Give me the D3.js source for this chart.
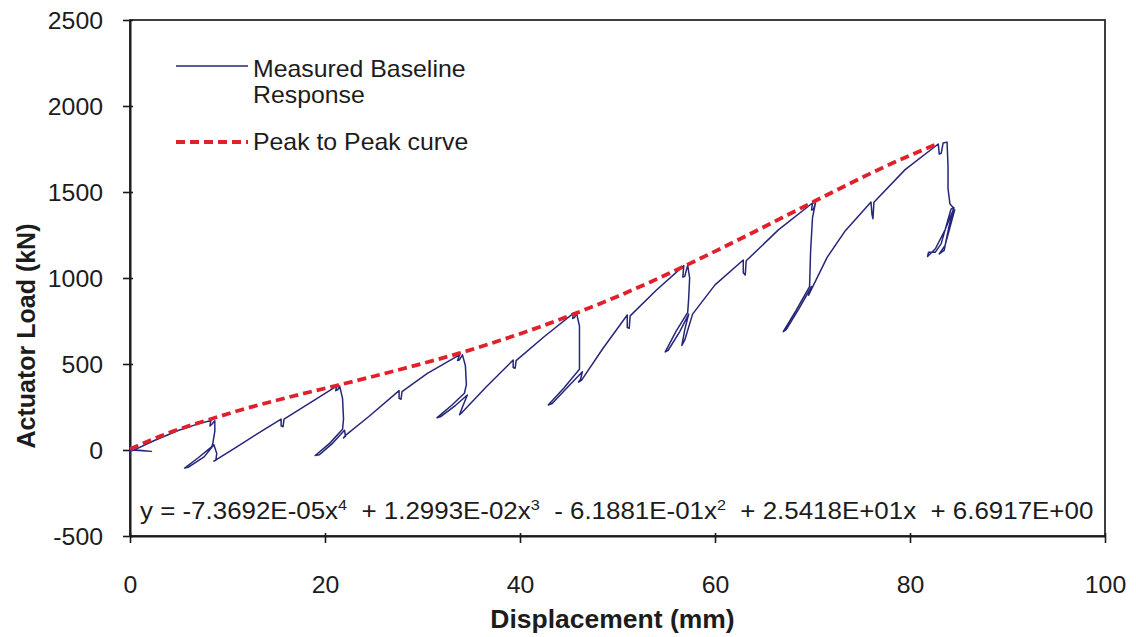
<!DOCTYPE html>
<html>
<head>
<meta charset="utf-8">
<script src="https://cdnjs.cloudflare.com/ajax/libs/d3/7.8.5/d3.min.js"></script>
<style>
  html, body { margin: 0; padding: 0; background: #ffffff; }
  svg text { font-family: "Liberation Sans", Arial, sans-serif; fill: #1c1c1c; }
</style>
</head>
<body>
<svg id="chart" width="1136" height="637"></svg>
<script>
// Axis ticks
const xTicks = [0, 20, 40, 60, 80, 100];
const yTicks = [-500, 0, 500, 1000, 1500, 2000, 2500];

// Measured baseline response (displacement in mm, load in kN), in test order
const baselineDisp = [
  0.0, 0.0, 0.0, 2.2, 0.5,
  2.5, 5.0, 7.0, 8.3, 8.2, 8.4, 8.7,
  8.7, 8.5, 8.4, 7.0, 5.6, 6.0, 7.6, 8.6, 8.9, 8.8, 8.6, 8.9,
  11.0, 13.5, 15.5, 15.5, 15.7, 15.8, 18.5, 21.2,
  21.1, 21.3, 21.5, 21.8, 21.9, 21.8,
  20.5, 19.0, 19.4, 20.8, 22.0, 22.1, 21.9, 22.1,
  24.5, 27.6, 27.6, 27.8, 27.9, 30.5, 33.8,
  33.6, 33.8, 34.1, 34.4, 34.5, 34.3,
  33.0, 31.5, 31.9, 33.4, 34.6, 34.1, 33.8, 34.0,
  36.5, 39.3, 39.3, 39.5, 39.6, 42.5, 45.5,
  45.4, 45.6, 45.8, 46.1, 46.1, 46.1,
  44.5, 42.9, 43.3, 44.8, 46.4, 46.2, 46.0, 46.3,
  48.5, 51.0, 51.0, 51.2, 51.3, 54.0, 56.8,
  56.7, 56.9, 57.2, 57.4, 57.3, 57.2,
  56.0, 54.9, 55.2, 56.4, 57.3, 56.9, 56.6, 56.9, 57.7,
  60.0, 62.9, 62.9, 63.1, 63.2, 66.5, 70.0,
  69.9, 70.1, 70.3, 70.0, 69.8, 69.7,
  68.3, 67.0, 67.3, 68.6, 69.9, 69.6,
  71.5, 73.3, 76.0, 76.1, 76.2, 76.3, 79.5, 82.9,
  83.0, 83.2, 83.4, 83.8,
  83.9, 83.9, 84.1,
  84.5, 83.6, 82.6, 81.8, 81.9, 82.6, 83.2, 84.2, 84.5, 84.0, 83.5, 83.0, 83.6, 84.6
];
const baselineLoad = [
  -45, 30, 0, -8, 2,
  55, 115, 152, 172, 140, 150, 170,
  110, 40, 20, -45, -105, -100, -40, 30, -20, -60, -65, -55,
  20, 110, 180, 140, 135, 180, 275, 372,
  345, 350, 372, 300, 180, 120,
  40, -32, -28, 40, 115, 80, 70, 85,
  195, 345, 300, 295, 340, 445, 553,
  520, 525, 553, 490, 380, 330,
  260, 188, 195, 260, 320, 250, 205, 215,
  365, 523, 480, 475, 520, 660, 796,
  765, 770, 796, 720, 560, 470,
  360, 262, 270, 360, 455, 410, 395, 405,
  590, 785, 712, 708, 780, 930, 1072,
  1005, 1010, 1075, 1000, 880, 800,
  690, 570, 580, 690, 790, 700, 608, 640, 790,
  960, 1105, 1030, 1017, 1100, 1280, 1436,
  1395, 1400, 1436, 1350, 1150, 950,
  810, 688, 700, 820, 950, 900,
  1120, 1270, 1442, 1370, 1345, 1440, 1630, 1779,
  1720, 1725, 1785, 1790,
  1650, 1520, 1430,
  1405, 1280, 1170, 1125, 1150, 1150, 1200, 1400, 1410, 1300, 1160, 1140, 1190, 1400
];

// Peak to peak envelope
const peakDisp = [0, 4, 8.4, 12, 16, 21.2, 26, 30, 33.8, 38, 42, 45.5, 50, 53.5, 56.9, 60, 63.5, 67, 70.1, 73.5, 77, 80, 82.9];
const peakLoad = [5, 100, 182, 243, 303, 375, 443, 503, 563, 638, 715, 790, 893, 980, 1070, 1155, 1253, 1354, 1443, 1540, 1636, 1713, 1782];

// Legend entries and fitted equation text
const legendLabels = [["Measured Baseline", "Response"], ["Peak to Peak curve"]];
const equationParts = [
  { text: "y = -7.3692E-05x" }, { sup: "4" },
  { text: "  + 1.2993E-02x" }, { sup: "3" },
  { text: "  - 6.1881E-01x" }, { sup: "2" },
  { text: "  + 2.5418E+01x" },
  { text: "  + 6.6917E+00" }
];

const baseColor = "#26267a";
const peakColor = "#e0212c";
const stretch = 1.08;   // horizontal widening of the lettering

const svg = d3.select("#chart");
const W = 1136, H = 637;
const plot = { left: 130, right: 1105, top: 20, bottom: 536 };

const x = d3.scaleLinear().domain([0, 100]).range([plot.left, plot.right]);
const y = d3.scaleLinear().domain([-500, 2500]).range([plot.bottom, plot.top]);

svg.append("rect").attr("width", W).attr("height", H).attr("fill", "#ffffff");

// Plot frame
svg.append("rect")
  .attr("x", plot.left).attr("y", plot.top)
  .attr("width", plot.right - plot.left).attr("height", plot.bottom - plot.top)
  .attr("fill", "none").attr("stroke", "#2a2a2a").attr("stroke-width", 1.8);

// Axes
const fmt = d => String(d);
const xAxis = d3.axisBottom(x).tickValues(xTicks).tickFormat(fmt).tickSizeInner(7).tickSizeOuter(0).tickPadding(0);
const yAxis = d3.axisLeft(y).tickValues(yTicks).tickFormat(fmt).tickSizeInner(7).tickSizeOuter(0).tickPadding(0);

const gx = svg.append("g").attr("transform", `translate(0,${plot.bottom})`).call(xAxis);
const gy = svg.append("g").attr("transform", `translate(${plot.left},0)`).call(yAxis);

[gx, gy].forEach(g => {
  g.select(".domain").attr("stroke", "#1a1a1a").attr("stroke-width", 2);
  g.selectAll(".tick line").attr("stroke", "#1a1a1a").attr("stroke-width", 1.6);
  g.selectAll(".tick text")
    .style("font-family", '"Liberation Sans", Arial, sans-serif')
    .style("font-size", "23px").attr("fill", "#1c1c1c");
});
gy.selectAll(".tick line").attr("x2", -7).clone().attr("x2", 3);
gx.selectAll(".tick line").clone().attr("y2", -3);
gy.selectAll(".tick text").attr("x", null).attr("dy", null)
  .attr("transform", `translate(-27,8) scale(${stretch},1)`);
gx.selectAll(".tick text").attr("y", null).attr("dy", null)
  .attr("transform", `translate(0,57) scale(${stretch},1)`);

// Axis titles
svg.append("text")
  .attr("transform", `translate(${(plot.left + plot.right) / 2 - 5},628) scale(1.06,1)`)
  .attr("text-anchor", "middle")
  .style("font-size", "25px").style("font-weight", "bold")
  .text("Displacement (mm)");

svg.append("text")
  .attr("transform", `translate(35,336) rotate(-90)`)
  .attr("text-anchor", "middle")
  .style("font-size", "25px").style("font-weight", "bold")
  .text("Actuator Load (kN)");

// Series
const baseline = d3.zip(baselineDisp, baselineLoad);
const peaks = d3.zip(peakDisp, peakLoad);

svg.append("path")
  .datum(baseline)
  .attr("fill", "none").attr("stroke", baseColor).attr("stroke-width", 1.5)
  .attr("stroke-linejoin", "round")
  .attr("d", d3.line().x(d => x(d[0])).y(d => y(d[1])));

svg.append("path")
  .datum(peaks)
  .attr("fill", "none").attr("stroke", peakColor).attr("stroke-width", 3.8)
  .attr("stroke-dasharray", "9,5")
  .attr("d", d3.line().curve(d3.curveMonotoneX).x(d => x(d[0])).y(d => y(d[1])));

// Legend
const legend = svg.append("g");
legend.append("line").attr("x1", 176).attr("x2", 248).attr("y1", 66).attr("y2", 66)
  .attr("stroke", baseColor).attr("stroke-width", 1.6);
legend.append("line").attr("x1", 176).attr("x2", 248).attr("y1", 142).attr("y2", 142)
  .attr("stroke", peakColor).attr("stroke-width", 3.8).attr("stroke-dasharray", "9,5");
const lt1 = legend.append("text")
  .attr("transform", `translate(253,77) scale(${stretch},1)`).style("font-size", "23px");
legendLabels[0].forEach((s, i) => lt1.append("tspan").attr("x", 0).attr("dy", i ? 26 : 0).text(s));
legend.append("text")
  .attr("transform", `translate(253,150) scale(${stretch},1)`)
  .style("font-size", "23px").text(legendLabels[1][0]);

// Fitted equation
const eq = svg.append("text")
  .attr("transform", `translate(140,519) scale(${stretch},1)`)
  .style("font-size", "24px").style("white-space", "pre");
let raised = false;
equationParts.forEach(p => {
  if (p.sup) {
    eq.append("tspan").attr("dy", -9).style("font-size", "15px").text(p.sup);
    raised = true;
  } else {
    const t = eq.append("tspan").text(p.text);
    if (raised) { t.attr("dy", 9); raised = false; }
  }
});
</script>
</body>
</html>
